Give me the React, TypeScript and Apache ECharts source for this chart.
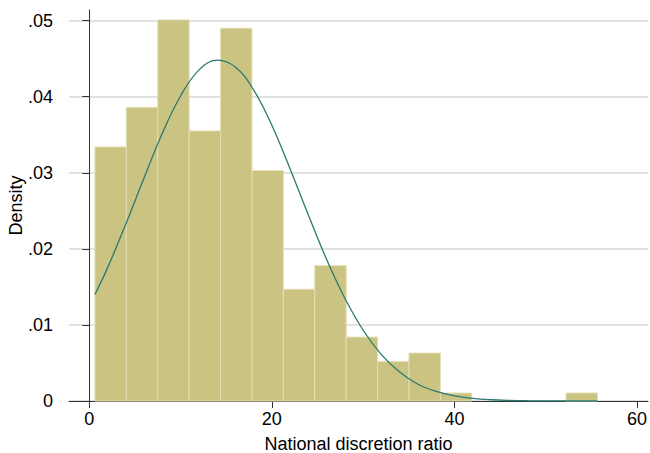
import React, { useEffect, useRef } from "react";
import * as echarts from "echarts";

// Histogram bins (lower edge, upper edge) and densities
const binStart = [0.62, 4.06, 7.5, 10.94, 14.38, 17.82, 21.26, 24.7, 28.14, 31.58, 35.02, 38.46, 41.9, 45.34, 48.78, 52.22];
const binEnd = [4.06, 7.5, 10.94, 14.38, 17.82, 21.26, 24.7, 28.14, 31.58, 35.02, 38.46, 41.9, 45.34, 48.78, 52.22, 55.66];
const density = [0.0334, 0.0386, 0.0501, 0.0355, 0.049, 0.0303, 0.0147, 0.0178, 0.0084, 0.0052, 0.0063, 0.00105, 0, 0, 0, 0.00105];

// Overlaid normal density curve
const curveX = [0.62, 2, 4, 6, 8, 10, 12, 14, 16, 18, 20, 22, 24, 26, 28, 30, 32, 34, 36, 38, 40, 42, 44, 46, 48, 50, 52, 54, 55.66];
const curveY = [0.014, 0.0175, 0.02325, 0.0293, 0.0352, 0.0401, 0.0435, 0.0448, 0.0439, 0.0409, 0.03625, 0.0305, 0.02445, 0.0186, 0.0135, 0.0093, 0.0061, 0.0038, 0.0022, 0.00125, 0.00067, 0.00034, 0.000165, 0.000076, 0.000033, 0.000014, 0.000005, 0.000002, 0.000001];

// Tick labels
const xTicks = [0, 20, 40, 60];
const yTicks = [0, 0.01, 0.02, 0.03, 0.04, 0.05];

const FONT = "'Liberation Sans', Arial, Helvetica, sans-serif";

export default function App() {
  const ref = useRef<HTMLDivElement>(null);
  useEffect(() => {
    if (!ref.current) return;
    const chart = echarts.init(ref.current, null, { renderer: "svg" });
    const histData = binStart.map((s, i) => [s, binEnd[i], density[i]]);
    const lineData = curveX.map((x, i) => [x, curveY[i]]);
    chart.setOption({
      animation: false,
      backgroundColor: "#ffffff",
      textStyle: { fontFamily: FONT },
      grid: { left: 69, right: 2, top: 10, bottom: 52, outerBoundsMode: "none", containLabel: false },
      xAxis: {
        type: "value",
        min: -2.22,
        max: 61.2,
        name: "National discretion ratio",
        nameLocation: "middle",
        nameGap: 34,
        nameMoveOverlap: false,
        nameTextStyle: { fontSize: 18, color: "#000", fontFamily: FONT },
        axisLine: { show: true, lineStyle: { color: "#333", width: 1 } },
        axisTick: { show: true, length: 7, lineStyle: { color: "#333" }, customValues: xTicks },
        axisLabel: { fontSize: 18, color: "#000", margin: 9, fontFamily: FONT, customValues: xTicks },
        splitLine: { show: false },
      },
      yAxis: {
        type: "value",
        min: 0,
        max: 0.0514,
        name: "Density",
        nameLocation: "middle",
        nameGap: 44,
        nameMoveOverlap: false,
        nameTextStyle: { fontSize: 18, color: "#000", fontFamily: FONT },
        axisLine: { show: true, lineStyle: { color: "#333", width: 1 } },
        axisTick: { show: true, length: 7, lineStyle: { color: "#333" }, customValues: yTicks },
        axisLabel: {
          fontSize: 18,
          color: "#000",
          margin: 16,
          fontFamily: FONT,
          customValues: yTicks,
          formatter: (v: number) => (v === 0 ? "0" : "." + String(Math.round(v * 100)).padStart(2, "0")),
        },
        splitLine: { show: true, lineStyle: { color: "#d9d9d9", width: 1.5 } },
      },
      series: [
        {
          type: "custom",
          z: 2,
          encode: { x: [0, 1], y: 2 },
          data: histData,
          renderItem: (params: any, api: any) => {
            const h = api.value(2);
            if (!h) return null;
            const p0 = api.coord([api.value(0), 0]);
            const p1 = api.coord([api.value(1), h]);
            return {
              type: "rect",
              shape: { x: p0[0], y: p1[1], width: p1[0] - p0[0], height: p0[1] - p1[1] },
              style: { fill: "#cbc382", stroke: "#e4dfb4", lineWidth: 1 },
            };
          },
        },
        {
          type: "line",
          z: 3,
          data: lineData,
          smooth: 0.4,
          showSymbol: false,
          lineStyle: { color: "#2a7a72", width: 1.3 },
        },
      ],
    });
    return () => chart.dispose();
  }, []);
  return <div ref={ref} style={{ position: "fixed", left: 0, top: 0, width: 650, height: 453 }} />;
}
